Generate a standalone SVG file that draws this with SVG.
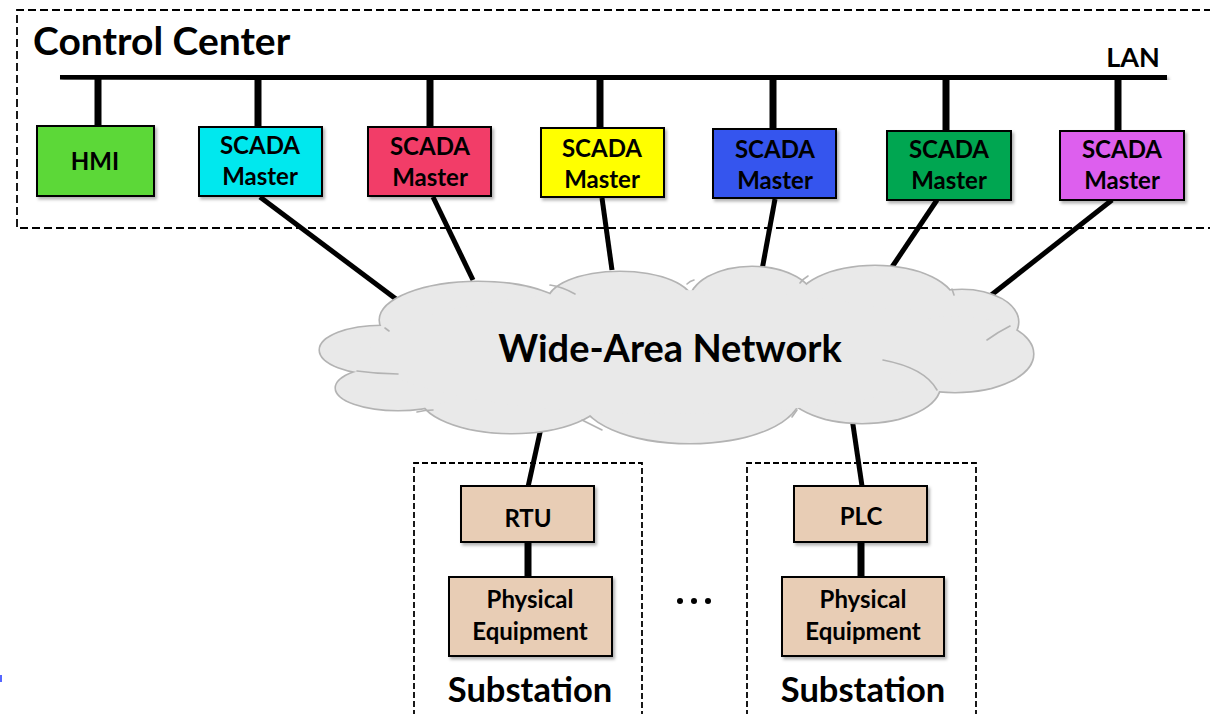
<svg xmlns="http://www.w3.org/2000/svg" xmlns:xlink="http://www.w3.org/1999/xlink" width="1210" height="714" viewBox="0 0 1210 714">
  <style>
    .label { font-family: Lato, "Open Sans", "Liberation Sans", sans-serif; font-weight: 700; fill: #000; text-anchor: middle; }
    .node { font-size: 24px; }
    .box { stroke: #000; stroke-width: 2; filter: url(#shadow); }
    .region { fill: none; stroke: #000; stroke-width: 1.8; }
    .bus { stroke: #000; stroke-width: 7; stroke-linecap: butt; fill: none; }
    .link { stroke: #000; stroke-width: 5; stroke-linecap: butt; fill: none; }
    .hook { fill: none; stroke: #b3b3b3; stroke-width: 1.6; stroke-linecap: round; }
    .tan { fill: #e8cdb5; }
  </style>
  <defs>
    <filter id="shadow" x="-10%" y="-10%" width="130%" height="140%">
      <feDropShadow dx="2" dy="2.5" stdDeviation="1.5" flood-color="#000" flood-opacity="0.3"/>
    </filter>
    <!-- overlapping lobes forming the WAN cloud -->
    <g id="lobes">
      <ellipse cx="478" cy="320" rx="98" ry="38"/>
      <ellipse cx="620" cy="302" rx="72" ry="30"/>
      <ellipse cx="752" cy="302" rx="62" ry="35"/>
      <ellipse cx="875" cy="305" rx="80" ry="39"/>
      <ellipse cx="962" cy="322" rx="56" ry="32"/>
      <ellipse cx="955" cy="354" rx="78" ry="38"/>
      <ellipse cx="862" cy="385" rx="78" ry="38"/>
      <ellipse cx="690" cy="395" rx="110" ry="48"/>
      <ellipse cx="512" cy="395" rx="92" ry="38"/>
      <ellipse cx="398" cy="388" rx="62" ry="22"/>
      <ellipse cx="382" cy="350" rx="62" ry="24"/>
    </g>
  </defs>

  <rect width="1210" height="714" fill="#fff"/>

  <!-- control center region -->
  <g id="control-center">
    <path class="region" d="M1212,10 H17 V228 H1212" stroke-width="2" stroke-dasharray="8 4"/>
    <text class="label" x="33" y="55" font-size="39" style="text-anchor:start">Control Center</text>
  </g>

  <!-- connectors -->
  <g id="connectors">
    <path class="bus" d="M60,76 L1167,78.5" filter="url(#shadow)"/>
    <text class="label" x="1133" y="67" font-size="27">LAN</text>
    <path class="bus" d="M98,76 V126"/>
    <path class="bus" d="M258,76 V127"/>
    <path class="bus" d="M430,77 V127"/>
    <path class="bus" d="M600,77 V128"/>
    <path class="bus" d="M773,77.5 V129"/>
    <path class="bus" d="M946,78 V131"/>
    <path class="bus" d="M1118,78.5 V131"/>
    <path class="link" d="M260,197 L400,302"/>
    <path class="link" d="M433,197 L473,280"/>
    <path class="link" d="M602,198 L612,270"/>
    <path class="link" d="M775,199 L762,270"/>
    <path class="link" d="M937,200 L890,270"/>
    <path class="link" d="M1112,200 L990,296"/>
    <path class="link" d="M541,428 L528,487"/>
    <path class="link" d="M852,418 L862,486"/>
    <path class="bus" d="M528,542 V577" stroke-width="6"/>
    <path class="bus" d="M861,542 V577" stroke-width="6"/>
  </g>

  <!-- wide-area network cloud -->
  <g id="wan">
    <use xlink:href="#lobes" href="#lobes" fill="none" stroke="#b3b3b3" stroke-width="3.2"/>
    <use xlink:href="#lobes" href="#lobes" fill="#e9e9e9" stroke="none"/>
    <ellipse cx="670" cy="352" rx="300" ry="62" fill="#e9e9e9"/>
    <path class="hook" d="M550,285 Q563,287 575,294"/>
    <path class="hook" d="M687,284 Q690,281 694,280"/>
    <path class="hook" d="M800,283 Q803,279 808,276"/>
    <path class="hook" d="M952,289 L954,295"/>
    <path class="hook" d="M987,340 Q998,332 1010,326"/>
    <path class="hook" d="M883,360 Q925,368 937,390"/>
    <path class="hook" d="M797,410 L792,417"/>
    <path class="hook" d="M582,420 Q592,425 602,430"/>
    <path class="hook" d="M417,412 Q425,410 433,410"/>
    <path class="hook" d="M357,371 Q378,374 398,374"/>
    <path class="hook" d="M385,328 L389,331"/>
    <text class="label" x="670" y="362" font-size="38">Wide-Area Network</text>
  </g>

  <!-- control center hosts -->
  <g id="hmi">
    <rect class="box" x="37" y="126" width="117" height="70" fill="#5bd838"/>
    <text class="label node" x="95" y="170" font-size="24.5">HMI</text>
  </g>
  <g id="scada-1">
    <rect class="box" x="199" y="127" width="123" height="69" fill="#00e8ee"/>
    <text class="label node" x="260" y="154">SCADA</text>
    <text class="label node" x="260" y="185">Master</text>
  </g>
  <g id="scada-2">
    <rect class="box" x="368" y="127" width="123" height="69" fill="#f23c68"/>
    <text class="label node" x="430" y="155">SCADA</text>
    <text class="label node" x="430" y="186">Master</text>
  </g>
  <g id="scada-3">
    <rect class="box" x="541" y="128" width="123" height="69" fill="#ffff00"/>
    <text class="label node" x="602" y="157">SCADA</text>
    <text class="label node" x="602" y="188">Master</text>
  </g>
  <g id="scada-4">
    <rect class="box" x="713" y="129" width="123" height="69" fill="#3455ee"/>
    <text class="label node" x="775" y="158">SCADA</text>
    <text class="label node" x="775" y="189">Master</text>
  </g>
  <g id="scada-5">
    <rect class="box" x="887" y="131" width="124" height="69" fill="#00a651"/>
    <text class="label node" x="949" y="158">SCADA</text>
    <text class="label node" x="949" y="189">Master</text>
  </g>
  <g id="scada-6">
    <rect class="box" x="1060" y="131" width="124" height="69" fill="#dd5fee"/>
    <text class="label node" x="1122" y="158">SCADA</text>
    <text class="label node" x="1122" y="189">Master</text>
  </g>

  <!-- substation with RTU -->
  <g id="substation-1">
    <path class="region" d="M414,716 V463 H642 V716" stroke-dasharray="6 3"/>
    <text class="label" x="530" y="702" font-size="34.5">Substation</text>
  </g>
  <g id="rtu">
    <rect class="box tan" x="461" y="486" width="133" height="56"/>
    <text class="label node" x="528" y="527" font-size="24.5">RTU</text>
  </g>
  <g id="equipment-1">
    <rect class="box tan" x="449" y="577" width="163" height="79"/>
    <text class="label node" x="530" y="608">Physical</text>
    <text class="label node" x="530" y="640">Equipment</text>
  </g>

  <!-- more substations -->
  <g id="ellipsis" fill="#000">
    <circle cx="680" cy="601" r="3"/>
    <circle cx="694" cy="601" r="3"/>
    <circle cx="708" cy="601" r="3"/>
  </g>

  <!-- substation with PLC -->
  <g id="substation-2">
    <path class="region" d="M747,716 V463 H976 V716" stroke-dasharray="6 3"/>
    <text class="label" x="863" y="702" font-size="34.5">Substation</text>
  </g>
  <g id="plc">
    <rect class="box tan" x="794" y="486" width="133" height="56"/>
    <text class="label node" x="861" y="525" font-size="24.5">PLC</text>
  </g>
  <g id="equipment-2">
    <rect class="box tan" x="782" y="577" width="162" height="79"/>
    <text class="label node" x="863" y="608">Physical</text>
    <text class="label node" x="863" y="640">Equipment</text>
  </g>

  <rect x="0" y="675" width="2" height="7" fill="#5566ff"/>
</svg>
